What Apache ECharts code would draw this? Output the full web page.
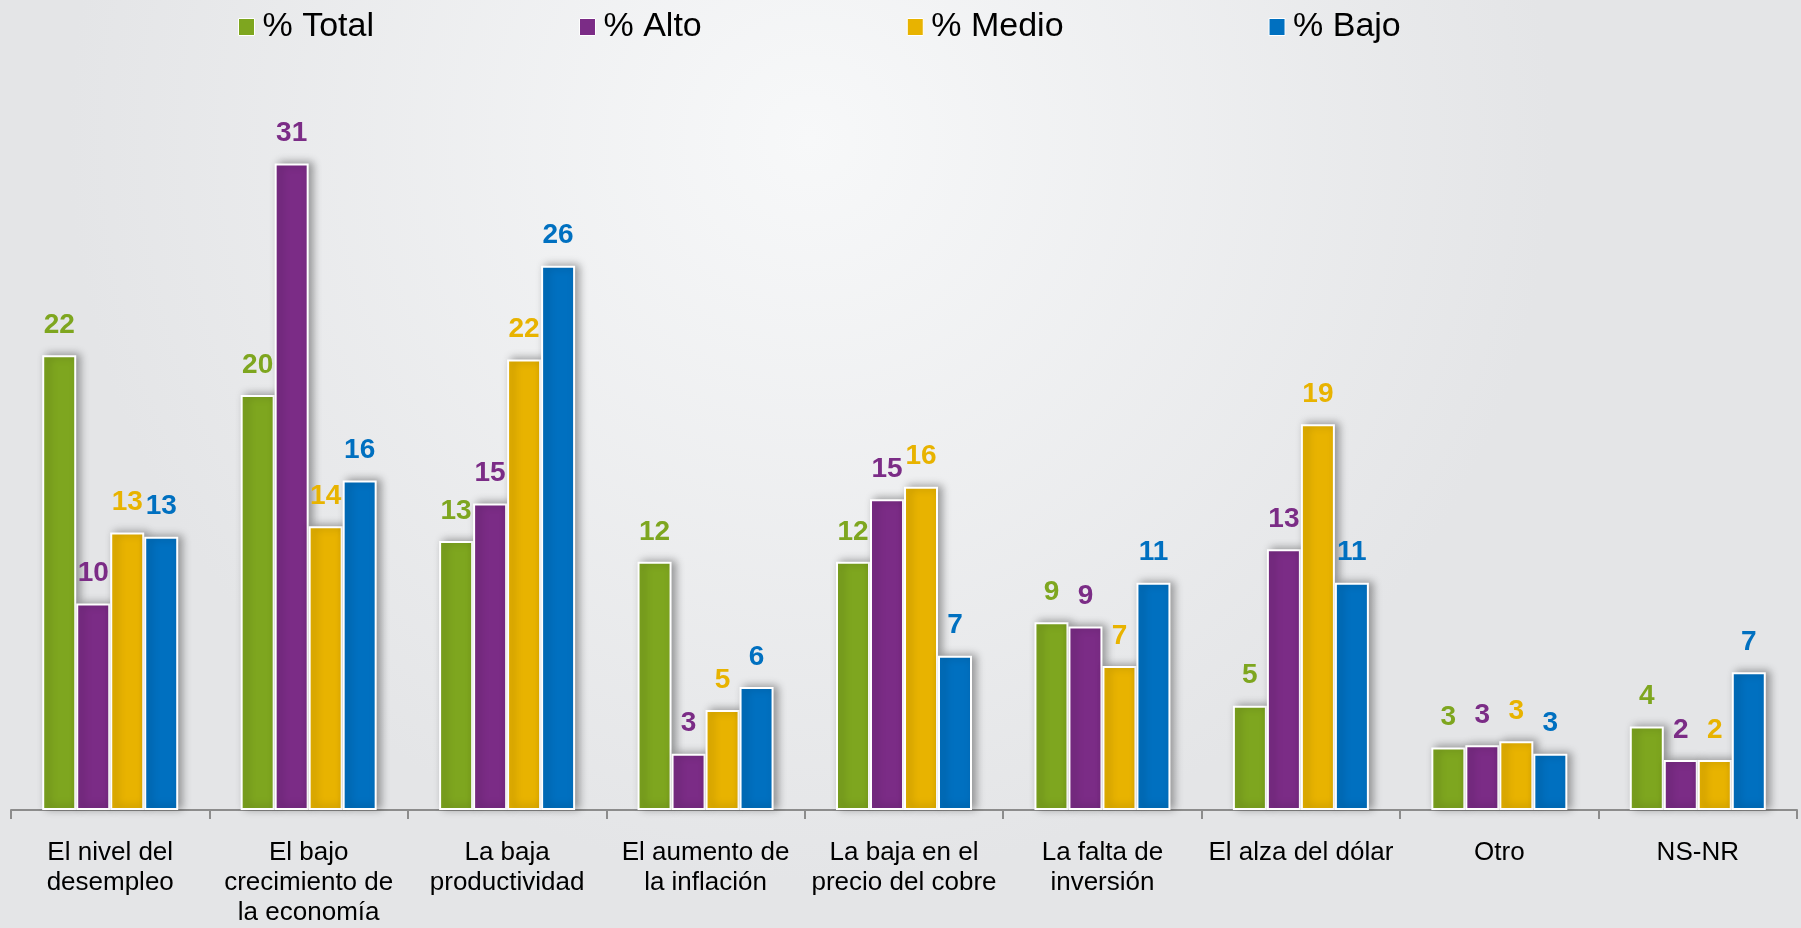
<!DOCTYPE html>
<html>
<head>
<meta charset="utf-8">
<script src="https://cdn.jsdelivr.net/npm/echarts@6/dist/echarts.min.js"></script>
<style>
  html, body { margin: 0; padding: 0; }
  #chart { width: 1801px; height: 928px; }
</style>
</head>
<body>
<div id="chart"></div>
<script>
// categorias del eje X
const categories = [
  "El nivel del\ndesempleo",
  "El bajo\ncrecimiento de\nla economía",
  "La baja\nproductividad",
  "El aumento de\nla inflación",
  "La baja en el\nprecio del cobre",
  "La falta de\ninversión",
  "El alza del dólar",
  "Otro",
  "NS-NR"
];

// valores (%)
const total = [21.8, 19.9, 12.9, 11.9, 11.9, 9.0, 5.0, 3.0, 4.0];
const alto  = [9.9, 31.0, 14.7, 2.7, 14.9, 8.8, 12.5, 3.1, 2.4];
const medio = [13.3, 13.6, 21.6, 4.8, 15.5, 6.9, 18.5, 3.3, 2.4];
const bajo  = [13.1, 15.8, 26.1, 5.9, 7.4, 10.9, 10.9, 2.7, 6.6];

const seriesNames = ["% Total", "% Alto", "% Medio", "% Bajo"];
const colors = ["#7ea61f", "#7b2c86", "#e8b300", "#0070c0"];

const chart = echarts.init(document.getElementById("chart"));

const makeSeries = (name, data, color) => ({
  name,
  type: "bar",
  data,
  barWidth: 34,
  barGap: "0%",
  itemStyle: {
    color,
    borderColor: "#ffffff",
    borderWidth: 2,
    shadowBlur: 8,
    shadowOffsetX: 4,
    shadowOffsetY: -1,
    shadowColor: "rgba(0,0,0,0.35)"
  },
  label: {
    show: true,
    position: "top",
    distance: 16,
    color,
    fontFamily: "Liberation Sans, Arial, sans-serif",
    fontWeight: "bold",
    fontSize: 28,
    formatter: (p) => Math.round(p.value)
  }
});

const option = {
  backgroundColor: {
    type: "radial",
    x: 0.45, y: 0.15, r: 0.8,
    colorStops: [
      { offset: 0, color: "#f7f8f9" },
      { offset: 1, color: "#e4e5e7" }
    ]
  },
  animation: false,
  textStyle: { fontFamily: "Liberation Sans, Arial, sans-serif" },
  legend: {
    left: 233,
    top: 5,
    itemWidth: 16,
    itemHeight: 17,
    itemGap: 205,
    icon: "rect",
    itemStyle: { borderColor: "#ffffff", borderWidth: 1 },
    textStyle: { fontSize: 34, color: "#000", padding: [0, 0, 0, 3] },
    data: seriesNames
  },
  grid: {
    left: 11,
    right: 4,
    top: 80,
    bottom: 114,
    containLabel: false
  },
  xAxis: {
    type: "category",
    data: categories,
    axisLine: { lineStyle: { color: "#8c8c8c", width: 2 } },
    axisTick: { show: true, length: 9, lineStyle: { color: "#8c8c8c", width: 2 } },
    axisLabel: {
      color: "#000",
      fontSize: 26,
      lineHeight: 30,
      margin: 28,
      interval: 0
    }
  },
  yAxis: {
    type: "value",
    min: 0,
    max: 35,
    show: false,
    splitLine: { show: false }
  },
  series: [
    makeSeries(seriesNames[0], total, colors[0]),
    makeSeries(seriesNames[1], alto, colors[1]),
    makeSeries(seriesNames[2], medio, colors[2]),
    makeSeries(seriesNames[3], bajo, colors[3])
  ]
};

chart.setOption(option);
</script>
</body>
</html>
